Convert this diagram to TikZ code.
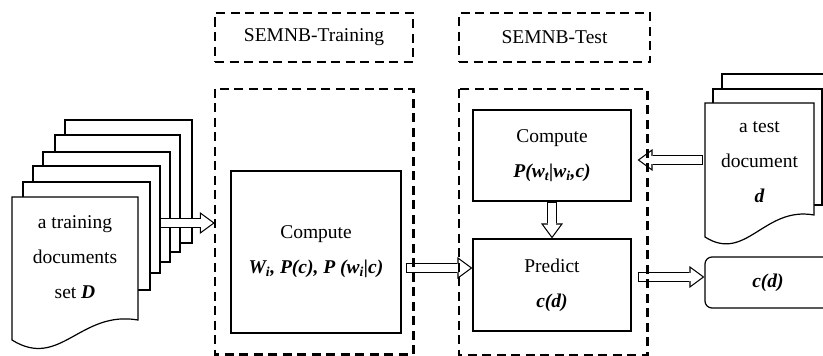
\documentclass[tikz,border=0pt]{standalone}
\usepackage{fontspec}
\setmainfont{Liberation Serif}
\usetikzlibrary{arrows.meta,calc}

\tikzset{
  dashbox/.style={draw, line width=2.6pt, dash pattern=on 9pt off 5.5pt, inner sep=0pt},
  dashline/.style={line width=2.6pt, dash pattern=on 9pt off 5.5pt},
  procbox/.style={draw, line width=1.2pt, inner sep=0pt, align=center},
  page/.style={draw, line width=1.2pt, fill=white},
  blockarrow/.style={line width=10pt, -{Triangle[length=15pt, width=22pt, line width=0pt]},
    postaction={draw=white, line width=7.6pt, shorten <=1.2pt, shorten >=2pt,
      -{Triangle[length=11.8pt, width=17.3pt, line width=0pt]}}}
}
\newcommand{\bi}[1]{\textbf{\textit{#1}}}

\begin{document}
\begin{tikzpicture}[x=1pt, y=-1pt, font=\fontsize{19.5}{35}\selectfont]
\useasboundingbox (0,0) rectangle (823,356);

% headers
\node[dashbox, minimum width=198pt, minimum height=49pt] (trainhead) at (314,37.5) {SEMNB-Training};
\node[dashbox, minimum width=191pt, minimum height=49pt] (testhead) at (554.5,37.5) {SEMNB-Test};

% areas (borders drawn last)
\node[inner sep=0pt, minimum width=198pt, minimum height=265pt] (trainarea) at (314,221.5) {};
\node[inner sep=0pt, minimum width=188pt, minimum height=266pt] (testarea) at (553,222) {};

% process boxes
\node[procbox, minimum width=170pt, minimum height=162pt] (train) at (316,252)
  {Compute\\\bi{W\textsubscript{i}, P(c), P (w\textsubscript{i}|c)}};
\node[procbox, minimum width=158pt, minimum height=91pt] (tcomp) at (552,155.5)
  {Compute\\\bi{P(w\textsubscript{t}|w\textsubscript{i},c)}};
\node[procbox, minimum width=158pt, minimum height=92pt] (predict) at (552,285)
  {Predict\\\bi{c(d)}};
\node[procbox, rounded corners=7pt, minimum width=126pt, minimum height=51pt] (result) at (768,282.5)
  {\bi{c(d)}};

% training documents
\foreach \l/\t/\r/\b in {65/120/192/243, 55/135/180/252, 43/152/170/262, 33/166/160/273, 23/182/150/290}
  \draw[page] (\l,\t) rectangle (\r,\b);
\draw[page] (12,340) .. controls (60,370) and (80,310) .. (138,320) -- (138,197) -- (12,197) -- cycle;
\node[align=center] (docs) at (75,257) {a training\\documents\\set \bi{D}};

% test document
\draw[page] (722,74) rectangle (831,190);
\draw[page] (713,89) rectangle (822,205);
\draw[page] (705,237) .. controls (746,263) and (764,206) .. (814,215) -- (814,103) -- (705,103) -- cycle;
\node[align=center] (tdoc) at (759.5,162) {a test\\document\\\bi{d}};

% arrows
\coordinate (docsout) at (160,223);
\coordinate (tdocin) at (703,160);
\coordinate (t1) at ([yshift=-16pt]train.east);
\coordinate (c1) at ([yshift=-4.5pt]tcomp.east);
\coordinate (p1) at ([yshift=8pt]predict.east);
\draw[blockarrow] (docsout) -- (docsout -| trainarea.west);
\draw[blockarrow] ([xshift=4pt]t1) -- (t1 -| predict.west);
\draw[blockarrow] (tdocin) -- ([xshift=6pt]c1);
\draw[blockarrow] (tcomp.south) -- (predict.north);
\draw[blockarrow] ([xshift=6pt]p1) -- (p1 -| result.west);

% area borders
\draw[dashline] (trainarea.north west) rectangle (trainarea.south east);
\draw[dashline] (testarea.north west) rectangle (testarea.south east);
\end{tikzpicture}
\end{document}
